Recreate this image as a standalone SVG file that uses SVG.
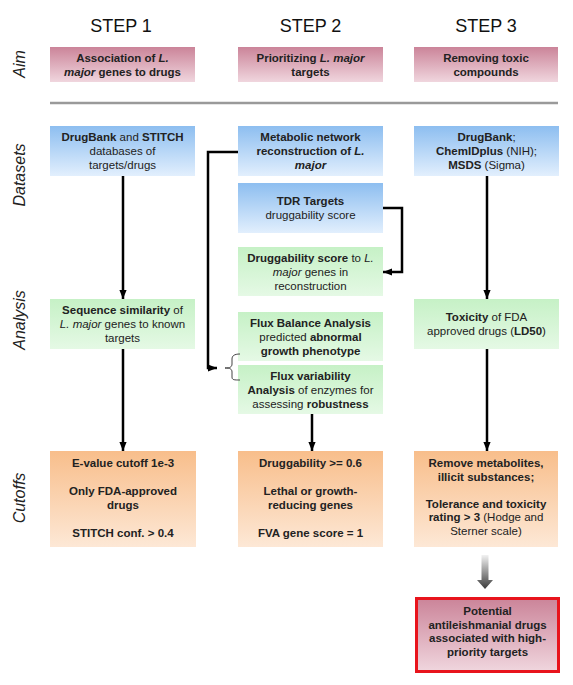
<svg xmlns="http://www.w3.org/2000/svg" width="573" height="685" viewBox="0 0 573 685">
<defs>
<linearGradient id="gAim" x1="0" y1="0" x2="0" y2="1"><stop offset="0" stop-color="#cb8499"/><stop offset="1" stop-color="#f0d6de"/></linearGradient>
<linearGradient id="gBlue" x1="0" y1="0" x2="0" y2="1"><stop offset="0" stop-color="#8dbef0"/><stop offset="1" stop-color="#e2effd"/></linearGradient>
<linearGradient id="gGreen" x1="0" y1="0" x2="0" y2="1"><stop offset="0" stop-color="#c6f1c6"/><stop offset="1" stop-color="#e5f9e5"/></linearGradient>
<linearGradient id="gOrange" x1="0" y1="0" x2="0" y2="1"><stop offset="0" stop-color="#f8be8b"/><stop offset="1" stop-color="#fde8d6"/></linearGradient>
<linearGradient id="gGray" x1="0" y1="0" x2="0" y2="1"><stop offset="0" stop-color="#f2f2f2"/><stop offset="1" stop-color="#3a3a3a"/></linearGradient>
<marker id="arr" viewBox="0 0 10 10" refX="10" refY="5" markerWidth="9" markerHeight="9" markerUnits="userSpaceOnUse" orient="auto"><path d="M0,1 L10,5 L0,9 z" fill="#000"/></marker>
</defs>
<style>
.t{font-family:"Liberation Sans",Arial,sans-serif;font-size:11.5px;fill:#222;text-anchor:middle}
.b{font-weight:bold}
.i{font-style:italic}
.step{font-family:"Liberation Sans",Arial,sans-serif;font-size:18px;fill:#111;text-anchor:middle}
.row{font-family:"Liberation Sans",Arial,sans-serif;font-size:16px;font-style:italic;fill:#222;text-anchor:middle}
.aim{fill:url(#gAim)}
.blue{fill:url(#gBlue)}
.green{fill:url(#gGreen)}
.orange{fill:url(#gOrange)}
.con{fill:none;stroke:#000;stroke-width:2.5}
</style>
<rect width="573" height="685" fill="#fff"/>

<g id="headers">
<text class="step" x="121" y="32">STEP 1</text>
<text class="step" x="310.5" y="32">STEP 2</text>
<text class="step" x="486" y="32">STEP 3</text>
</g>
<g id="rowlabels">
<text class="row" transform="translate(25,64) rotate(-90)">Aim</text>
<text class="row" transform="translate(25,175) rotate(-90)">Datasets</text>
<text class="row" transform="translate(25,320) rotate(-90)">Analysis</text>
<text class="row" transform="translate(25,498) rotate(-90)">Cutoffs</text>
</g>
<line x1="50" y1="103" x2="558" y2="103" stroke="#9a9a9a" stroke-width="2.5"/>

<g id="aim1"><rect class="aim" x="50" y="47" width="145" height="35"/>
<text class="t b" x="122.5" y="62">Association of <tspan class="i">L.</tspan></text>
<text class="t b" x="122.5" y="76"><tspan class="i">major</tspan> genes to drugs</text></g>
<g id="aim2"><rect class="aim" x="238" y="47" width="145" height="35"/>
<text class="t b" x="310.5" y="62">Prioritizing <tspan class="i">L. major</tspan></text>
<text class="t b" x="310.5" y="76">targets</text></g>
<g id="aim3"><rect class="aim" x="414" y="47" width="144" height="35"/>
<text class="t b" x="486" y="62">Removing toxic</text>
<text class="t b" x="486" y="76">compounds</text></g>

<g id="ds1"><rect class="blue" x="50" y="126" width="145" height="50"/>
<text class="t" x="122.5" y="141"><tspan class="b">DrugBank</tspan> and <tspan class="b">STITCH</tspan></text>
<text class="t" x="122.5" y="155">databases of</text>
<text class="t" x="122.5" y="169">targets/drugs</text></g>
<g id="ds2"><rect class="blue" x="238" y="126" width="145" height="50"/>
<text class="t b" x="310.5" y="141">Metabolic network</text>
<text class="t b" x="310.5" y="155">reconstruction of <tspan class="i">L.</tspan></text>
<text class="t b i" x="310.5" y="169">major</text></g>
<g id="ds3"><rect class="blue" x="238" y="183" width="145" height="50"/>
<text class="t b" x="310.5" y="205">TDR Targets</text>
<text class="t" x="310.5" y="219">druggability score</text></g>
<g id="an2a"><rect class="green" x="238" y="247" width="145" height="49"/>
<text class="t" x="310.5" y="262"><tspan class="b">Druggability score</tspan> to <tspan class="i">L.</tspan></text>
<text class="t" x="310.5" y="276"><tspan class="i">major</tspan> genes in</text>
<text class="t" x="310.5" y="290">reconstruction</text></g>
<g id="ds4"><rect class="blue" x="414" y="126" width="145" height="50"/>
<text class="t" x="486.5" y="141"><tspan class="b">DrugBank</tspan>;</text>
<text class="t" x="486.5" y="155"><tspan class="b">ChemIDplus</tspan> (NIH);</text>
<text class="t" x="486.5" y="169"><tspan class="b">MSDS</tspan> (Sigma)</text></g>

<g id="an1"><rect class="green" x="50" y="299" width="145" height="50"/>
<text class="t" x="122.5" y="314"><tspan class="b">Sequence similarity</tspan> of</text>
<text class="t" x="122.5" y="328"><tspan class="i">L. major</tspan> genes to known</text>
<text class="t" x="122.5" y="342">targets</text></g>
<g id="an2b"><rect class="green" x="238" y="312" width="145" height="49"/>
<text class="t b" x="310.5" y="327">Flux Balance Analysis</text>
<text class="t" x="310.5" y="341">predicted <tspan class="b">abnormal</tspan></text>
<text class="t b" x="310.5" y="355">growth phenotype</text></g>
<g id="an2c"><rect class="green" x="238" y="365" width="145" height="49"/>
<text class="t b" x="310.5" y="380">Flux variability</text>
<text class="t" x="310.5" y="394"><tspan class="b">Analysis</tspan> of enzymes for</text>
<text class="t" x="310.5" y="408">assessing <tspan class="b">robustness</tspan></text></g>
<g id="an3"><rect class="green" x="414" y="299" width="145" height="50"/>
<text class="t" x="486.5" y="321"><tspan class="b">Toxicity</tspan> of FDA</text>
<text class="t" x="486.5" y="335">approved drugs (<tspan class="b">LD50</tspan>)</text></g>

<g id="cut1"><rect class="orange" x="50" y="451" width="146" height="96"/>
<text class="t b" x="123" y="467">E-value cutoff 1e-3</text>
<text class="t b" x="123" y="495">Only FDA-approved</text>
<text class="t b" x="123" y="509">drugs</text>
<text class="t b" x="123" y="537">STITCH conf. &gt; 0.4</text></g>
<g id="cut2"><rect class="orange" x="238" y="451" width="145" height="96"/>
<text class="t b" x="310.5" y="467">Druggability &gt;= 0.6</text>
<text class="t b" x="310.5" y="495">Lethal or growth-</text>
<text class="t b" x="310.5" y="509">reducing genes</text>
<text class="t b" x="310.5" y="537">FVA gene score = 1</text></g>
<g id="cut3"><rect class="orange" x="414" y="451" width="144" height="96"/>
<text class="t b" x="486" y="467">Remove metabolites,</text>
<text class="t b" x="486" y="480.5">illicit substances;</text>
<text class="t b" x="486" y="507.5">Tolerance and toxicity</text>
<text class="t" x="486" y="521"><tspan class="b">rating &gt; 3</tspan> (Hodge and</text>
<text class="t" x="486" y="534.5">Sterner scale)</text></g>

<g id="final"><rect class="aim" x="416.5" y="598.5" width="142" height="73" stroke="#e8141c" stroke-width="3"/>
<text class="t b" x="487.5" y="615">Potential</text>
<text class="t b" x="487.5" y="628.5">antileishmanial drugs</text>
<text class="t b" x="487.5" y="642">associated with high-</text>
<text class="t b" x="487.5" y="655.5">priority targets</text></g>

<g id="connectors">
<line class="con" x1="123" y1="176" x2="123" y2="299" marker-end="url(#arr)"/>
<line class="con" x1="123" y1="349" x2="123" y2="451" marker-end="url(#arr)"/>
<line class="con" x1="487" y1="176" x2="487" y2="299" marker-end="url(#arr)"/>
<line class="con" x1="487" y1="349" x2="487" y2="451" marker-end="url(#arr)"/>
<line class="con" x1="312" y1="414" x2="312" y2="451" marker-end="url(#arr)"/>
<path class="con" d="M383,208 H402 V272 H383" marker-end="url(#arr)"/>
<path class="con" d="M238,152 H208 V368 H217" marker-end="url(#arr)"/>
<path d="M240,354 C234,354 232,356 232,359 L232,364 C232,367 230,368 225,368 C230,368 232,369 232,372 L232,377 C232,380 234,380 240,380" fill="none" stroke="#444" stroke-width="1"/>
<path d="M481.5,555 H488.5 V580 H493 L485,589 L477,580 H481.5 Z" fill="url(#gGray)"/>
</g>
</svg>
